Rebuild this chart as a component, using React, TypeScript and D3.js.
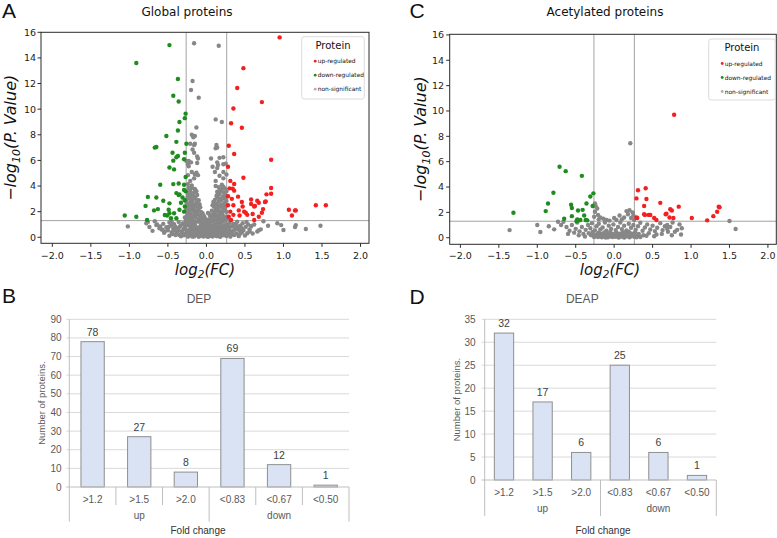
import React from "react";
import * as d3 from "d3";

// ---------- DATA ----------
const volcanoXTicks = [-2, -1.5, -1, -0.5, 0, 0.5, 1, 1.5, 2];
const volcanoYTicks = [0, 2, 4, 6, 8, 10, 12, 14, 16];
const fcThreshold = 0.263; // log2(1.2)
const pThreshold = 1.301; // -log10(0.05)
const legendLabels = ["up-regulated", "down-regulated", "non-significant"];

type P = [number, number];

const globalUp: P[] = [
  [0.95, 15.6], [0.48, 13.2], [0.4, 11.65], [0.72, 10.55], [0.35, 10.05], [0.32, 8.9], [0.46, 8.55],
  [0.29, 7.15], [0.36, 6.5], [0.84, 6.05], [0.28, 5.5], [0.48, 4.65], [0.31, 4.4], [0.36, 4.16],
  [0.3, 3.82], [0.34, 3.8], [0.36, 3.64], [0.84, 3.85], [0.84, 3.4], [0.78, 3.35], [0.28, 3.2],
  [0.41, 3.17], [0.33, 3.0], [0.58, 2.95], [0.66, 2.85], [0.77, 2.8], [0.76, 2.75], [0.68, 2.7],
  [0.58, 2.6], [0.63, 2.45], [0.62, 2.4], [0.46, 2.75], [0.35, 2.5], [0.28, 2.5], [1.42, 2.5],
  [1.55, 2.5], [1.07, 2.15], [1.15, 2.1], [1.16, 2.1], [1.11, 1.7], [0.735, 2.2], [0.72, 1.92],
  [0.51, 1.92], [0.42, 2.1], [0.49, 2.0], [0.6, 1.82], [0.35, 1.75], [0.29, 1.6], [0.32, 1.35],
  [0.43, 1.7], [0.53, 1.75], [0.62, 1.35], [0.68, 1.6], [0.31, 2.0], [0.47, 2.4],
];

const globalDown: P[] = [
  [-0.48, 15.0], [-0.91, 13.6], [-0.37, 12.35], [-0.43, 11.05], [-0.36, 10.6], [-0.27, 9.65],
  [-0.28, 9.3], [-0.35, 9.0], [-0.37, 8.33], [-0.52, 7.9], [-0.26, 7.3], [-0.39, 7.45], [-0.67, 7.0],
  [-0.65, 7.05], [-0.44, 6.6], [-0.28, 6.6], [-0.37, 6.35], [-0.39, 6.25], [-0.29, 6.09], [-0.43, 5.98],
  [-0.48, 5.45], [-0.42, 5.3], [-0.27, 4.7], [-0.6, 4.1], [-0.43, 4.15], [-0.36, 4.2], [-0.29, 4.1],
  [-0.76, 3.15], [-0.65, 3.1], [-0.56, 2.85], [-0.48, 2.65], [-0.39, 3.45], [-0.35, 3.35], [-0.36, 3.3],
  [-0.29, 3.7], [-0.28, 2.9], [-0.79, 2.45], [-0.63, 2.2], [-0.68, 2.1], [-0.49, 2.15], [-0.48, 1.88],
  [-0.42, 1.88], [-0.35, 2.15], [-0.29, 2.0], [-0.54, 1.74], [-0.51, 1.7], [-0.46, 1.48], [-0.39, 1.48],
  [-1.06, 1.7], [-0.91, 1.6], [-0.77, 1.35], [-0.28, 2.4], [-0.27, 3.6], [-0.33, 2.7], [-0.31, 3.1],
];

const globalNs: P[] = [
  // bottom band
  [-0.48, 0.12], [-0.4, 0.18], [-0.33, 0.08], [-0.29, 0.15], [-0.24, 0.05], [-0.2, 0.14], [-0.16, 0.07],
  [-0.13, 0.19], [-0.1, 0.04], [-0.07, 0.11], [-0.04, 0.06], [-0.01, 0.16], [0.02, 0.03], [0.05, 0.12],
  [0.08, 0.06], [0.11, 0.17], [0.14, 0.09], [0.18, 0.04], [0.22, 0.15], [0.26, 0.1], [0.31, 0.05],
  [0.36, 0.17], [0.42, 0.09], [0.5, 0.14],
  [-0.55, 0.35], [-0.45, 0.4], [-0.38, 0.3], [-0.32, 0.42], [-0.27, 0.27], [-0.23, 0.38], [-0.19, 0.3],
  [-0.15, 0.44], [-0.12, 0.28], [-0.09, 0.36], [-0.06, 0.25], [-0.03, 0.41], [0.0, 0.3], [0.03, 0.37],
  [0.06, 0.26], [0.09, 0.43], [0.12, 0.31], [0.15, 0.39], [0.19, 0.27], [0.23, 0.42], [0.28, 0.33],
  [0.33, 0.4], [0.39, 0.29], [0.46, 0.38], [0.53, 0.32],
  [-0.58, 0.6], [-0.5, 0.55], [-0.43, 0.66], [-0.36, 0.52], [-0.3, 0.63], [-0.25, 0.5], [-0.21, 0.68],
  [-0.17, 0.57], [-0.13, 0.64], [-0.1, 0.51], [-0.07, 0.62], [-0.04, 0.55], [-0.01, 0.67], [0.02, 0.53],
  [0.05, 0.65], [0.08, 0.56], [0.11, 0.69], [0.14, 0.52], [0.17, 0.61], [0.21, 0.54], [0.25, 0.66],
  [0.3, 0.58], [0.35, 0.5], [0.41, 0.64], [0.48, 0.55], [0.56, 0.62],
  [-0.6, 0.85], [-0.52, 0.78], [-0.46, 0.92], [-0.4, 0.8], [-0.34, 0.88], [-0.28, 0.76], [-0.24, 0.93],
  [-0.2, 0.82], [-0.16, 0.9], [-0.12, 0.77], [-0.08, 0.86], [-0.05, 0.95], [-0.02, 0.79], [0.01, 0.88],
  [0.04, 0.75], [0.07, 0.91], [0.1, 0.83], [0.13, 0.94], [0.16, 0.78], [0.2, 0.87], [0.24, 0.8],
  [0.29, 0.92], [0.34, 0.84], [0.39, 0.77], [0.44, 0.9], [0.51, 0.81], [0.58, 0.88],
  [-0.56, 1.05], [-0.48, 1.15], [-0.42, 1.02], [-0.36, 1.2], [-0.31, 1.08], [-0.27, 1.25], [-0.23, 1.04],
  [-0.19, 1.17], [-0.15, 1.0], [-0.11, 1.22], [-0.07, 1.1], [-0.03, 1.02], [0.0, 1.18], [0.04, 1.06],
  [0.08, 1.24], [0.11, 1.01], [0.14, 1.15], [0.18, 1.08], [0.22, 1.27], [0.26, 1.03], [0.3, 1.14],
  [0.35, 1.05], [0.4, 1.22], [0.47, 1.1], [0.54, 1.0],
  [-0.22, 0.22], [-0.18, 0.35], [-0.14, 0.15], [-0.11, 0.47], [-0.05, 0.33], [0.0, 0.09], [0.04, 0.2],
  [0.07, 0.48], [0.1, 0.24], [0.13, 0.1], [0.16, 0.28], [0.2, 0.46], [0.24, 0.2], [-0.26, 0.55],
  [-0.08, 0.72], [0.07, 0.7], [0.19, 0.75], [-0.18, 0.98], [0.15, 1.2], [-0.29, 0.97], [0.27, 0.74],
  [0.32, 0.22], [-0.35, 0.18],
  [-0.21, 0.44], [-0.17, 0.75], [-0.13, 0.35], [-0.09, 0.6], [-0.06, 0.85], [-0.03, 0.6], [0.0, 0.78],
  [0.03, 0.95], [0.06, 0.4], [0.09, 0.95], [0.12, 0.6], [0.15, 0.85], [0.18, 0.5], [0.21, 0.68],
  [0.24, 0.95], [0.27, 0.52], [0.3, 0.8], [-0.31, 0.35], [-0.36, 0.72], [-0.4, 0.5], [-0.44, 0.25],
  [0.38, 1.05], [0.43, 0.55], [-0.25, 1.1], [-0.21, 1.3], [0.2, 1.18], [0.12, 1.3], [-0.14, 1.25],
  [0.05, 0.15], [-0.02, 0.4], [0.17, 0.08], [-0.18, 0.05], [0.27, 0.2],
  // lobes
  [-0.26, 1.4], [-0.22, 1.52], [-0.18, 1.35], [-0.14, 1.58], [-0.1, 1.42], [-0.06, 1.33], [-0.02, 1.47],
  [0.02, 1.38], [0.06, 1.55], [0.1, 1.36], [0.14, 1.5], [0.18, 1.41], [0.22, 1.57], [0.25, 1.34],
  [-0.25, 1.72], [-0.21, 1.85], [-0.17, 1.66], [-0.13, 1.8], [-0.09, 1.7], [-0.05, 1.88], [0.05, 1.64],
  [0.09, 1.82], [0.13, 1.69], [0.17, 1.87], [0.21, 1.75], [0.26, 1.63],
  [-0.27, 2.05], [-0.23, 1.95], [-0.19, 2.15], [-0.15, 2.0], [-0.11, 2.12], [-0.07, 1.97], [0.07, 2.08],
  [0.11, 1.94], [0.15, 2.17], [0.19, 2.02], [0.23, 2.13], [0.26, 1.98],
  [-0.26, 2.35], [-0.22, 2.48], [-0.18, 2.28], [-0.14, 2.42], [-0.1, 2.25], [0.1, 2.38], [0.14, 2.27],
  [0.18, 2.45], [0.22, 2.31], [0.25, 2.44],
  [-0.25, 2.62], [-0.21, 2.75], [-0.17, 2.56], [-0.13, 2.7], [-0.09, 2.58], [0.12, 2.65], [0.16, 2.78],
  [0.2, 2.57], [0.24, 2.7],
  [-0.26, 2.95], [-0.22, 3.05], [-0.18, 2.85], [-0.14, 3.0], [0.11, 2.92], [0.15, 3.08], [0.19, 2.88],
  [0.23, 3.02], [0.26, 2.84],
  [-0.24, 3.2], [-0.2, 3.35], [-0.16, 3.15], [-0.12, 3.3], [0.13, 3.22], [0.17, 3.38], [0.21, 3.14],
  [0.25, 3.28],
  [-0.25, 3.5], [-0.21, 3.62], [-0.17, 3.45], [0.14, 3.55], [0.18, 3.68], [0.22, 3.48], [0.26, 3.6],
  [-0.23, 3.85], [-0.19, 4.05], [-0.15, 3.78], [-0.24, 4.15], [0.16, 3.9], [0.2, 4.1], [0.24, 3.8],
  [0.12, 4.0],
  [-0.2, 1.6], [-0.16, 1.95], [-0.12, 2.55], [-0.19, 2.6], [-0.23, 2.2], [-0.08, 2.35], [0.08, 2.5],
  [0.16, 2.05], [0.2, 2.35], [0.12, 1.75], [0.24, 2.55], [0.18, 3.0], [-0.2, 3.1], [-0.15, 3.55],
  [0.2, 3.75], [-0.07, 1.55], [0.04, 1.8], [-0.03, 1.65], [0.02, 1.9],
  [-0.28, 1.55], [-0.24, 1.9], [-0.2, 2.45], [-0.16, 2.25], [-0.12, 1.9], [-0.08, 1.6], [-0.04, 1.25],
  [-0.01, 1.35], [0.03, 1.2], [0.06, 1.38], [0.09, 1.6], [0.12, 2.15], [0.15, 2.5], [0.17, 1.6],
  [0.21, 2.0], [0.24, 2.2], [0.27, 1.45], [-0.27, 2.8], [-0.23, 3.35], [-0.19, 3.85], [0.17, 3.6],
  [0.22, 3.95], [0.25, 3.1], [0.14, 3.3], [-0.13, 3.6], [-0.1, 2.9], [0.09, 2.75],
  // upper sparse
  [-0.21, 4.4], [-0.16, 4.6], [-0.24, 4.85], [-0.11, 4.85], [-0.15, 4.9], [-0.19, 5.1], [-0.13, 5.05],
  [-0.23, 5.55], [-0.24, 5.7], [-0.2, 5.85], [-0.12, 5.8], [-0.23, 5.95], [-0.12, 6.3], [-0.11, 6.15],
  [-0.16, 6.6], [-0.18, 6.85], [-0.16, 7.2], [-0.15, 7.3], [-0.21, 7.3], [-0.17, 7.8], [-0.15, 7.9],
  [-0.19, 8.0], [-0.13, 8.57], [-0.26, 5.95],
  [0.12, 4.4], [0.17, 4.8], [0.22, 4.6], [0.11, 5.1], [0.22, 5.1], [0.14, 5.4], [0.15, 5.65], [0.22, 5.7],
  [0.25, 5.75], [0.14, 5.85], [0.06, 6.15], [0.17, 6.2], [0.22, 6.25], [0.12, 6.95], [0.13, 7.2],
  [0.14, 7.0], [0.12, 9.2], [0.2, 9.0], [0.08, 5.5], [0.26, 4.9],
  // outliers
  [-0.16, 15.15], [0.16, 14.95], [-0.18, 12.2], [-0.2, 11.5], [-0.1, 10.9],
  [-1.02, 0.85], [-0.78, 1.1], [-0.76, 1.2], [-0.74, 0.8], [-0.65, 0.95], [-0.64, 1.0], [-0.61, 0.7],
  [-0.57, 0.6], [-0.54, 0.45], [-0.49, 0.8], [-0.45, 1.2], [-0.43, 1.0], [-0.41, 0.55], [-0.7, 0.5],
  [-0.67, 1.25],
  [0.92, 1.1], [0.97, 0.95], [1.0, 0.57], [1.16, 0.95], [1.15, 0.8], [1.29, 0.65], [1.48, 0.9],
  [0.705, 0.62], [0.66, 0.45], [0.68, 0.55], [0.58, 0.85], [0.46, 0.7], [0.41, 0.85], [0.56, 0.45],
  [0.37, 0.6], [0.35, 0.95], [0.74, 1.25], [0.62, 1.0], [0.8, 0.9], [0.52, 1.2], [0.44, 0.3], [0.6, 0.3],
];

const acetylUp: P[] = [
  [0.78, 9.7], [0.31, 3.75], [0.29, 3.1], [0.41, 3.9], [0.42, 3.05], [0.39, 2.5], [0.6, 2.75],
  [0.84, 2.45], [0.73, 2.25], [0.75, 2.15], [0.68, 1.9], [0.67, 1.85], [0.39, 1.85], [0.4, 1.8],
  [0.45, 1.8], [0.47, 1.8], [0.29, 1.6], [0.3, 1.55], [0.52, 1.55], [0.55, 1.4], [0.72, 1.6],
  [0.77, 1.55], [1.01, 1.55], [1.21, 1.37], [1.29, 1.7], [1.34, 2.05], [1.36, 2.45], [1.37, 2.4],
];

const acetylDown: P[] = [
  [-0.71, 5.6], [-0.63, 5.25], [-0.42, 4.88], [-0.79, 3.55], [-0.27, 3.5], [-0.31, 3.25], [-0.86, 2.7],
  [-0.56, 2.6], [-0.55, 2.35], [-0.36, 2.7], [-0.28, 2.5], [-0.41, 2.2], [-0.47, 2.15], [-0.89, 2.1],
  [-1.31, 1.97], [-0.55, 1.7], [-0.39, 1.75], [-0.65, 1.5], [-0.48, 1.45], [-0.46, 1.37], [-0.44, 1.4],
  [-0.37, 1.4], [-0.35, 1.37], [-0.49, 1.3],
];

const acetylNs: P[] = [
  [-0.38, 0.1], [-0.3, 0.2], [-0.26, 0.06], [-0.22, 0.3], [-0.19, 0.12], [-0.16, 0.04], [-0.14, 0.22],
  [-0.12, 0.08], [-0.1, 0.16], [-0.08, 0.03], [-0.06, 0.25], [-0.04, 0.1], [-0.02, 0.05], [0.0, 0.18],
  [0.02, 0.07], [0.04, 0.13], [0.06, 0.02], [0.08, 0.21], [0.1, 0.09], [0.12, 0.15], [0.14, 0.05],
  [0.16, 0.27], [0.18, 0.11], [0.2, 0.04], [0.23, 0.19], [0.26, 0.08], [0.3, 0.14], [0.34, 0.06],
  [-0.33, 0.35], [-0.28, 0.45], [-0.24, 0.15], [-0.2, 0.4], [-0.17, 0.3], [-0.13, 0.42], [-0.09, 0.34],
  [-0.05, 0.45], [-0.01, 0.3], [0.03, 0.4], [0.07, 0.32], [0.11, 0.44], [0.15, 0.37], [0.19, 0.47],
  [0.22, 0.33], [0.27, 0.42], [0.32, 0.3], [0.38, 0.2], [-0.11, 0.02], [0.05, 0.26], [-0.07, 0.14],
  [0.13, 0.01], [-0.15, 0.13], [0.09, 0.12], [0.01, 0.24], [-0.03, 0.2], [0.17, 0.18], [0.21, 0.1],
  [-0.21, 0.06], [0.25, 0.28], [-0.27, 0.26], [0.29, 0.03],
  [-0.58, 0.55], [-0.5, 0.7], [-0.45, 0.5], [-0.42, 0.85], [-0.37, 0.62], [-0.34, 1.0], [-0.31, 0.75],
  [-0.29, 1.15], [-0.25, 0.58], [-0.23, 0.9], [-0.2, 1.1], [-0.18, 0.65], [-0.15, 0.8], [-0.12, 1.2],
  [-0.1, 0.55], [-0.07, 0.95], [-0.04, 0.7], [-0.01, 1.05], [0.02, 0.6], [0.05, 0.85], [0.08, 1.2],
  [0.1, 0.68], [0.13, 0.95], [0.16, 0.58], [0.19, 1.1], [0.22, 0.78], [0.25, 1.0], [0.28, 0.62],
  [0.31, 0.9], [0.34, 1.18], [0.37, 0.55], [0.4, 0.8], [0.43, 1.05], [0.47, 0.65], [0.5, 0.95],
  [0.53, 0.52], [0.56, 0.78], [0.6, 1.15], [0.63, 0.6], [0.66, 0.9], [0.69, 0.7], [0.69, 1.0],
  [0.7, 0.47], [0.73, 0.85], [0.76, 1.2], [0.79, 0.47], [0.82, 0.62], [0.85, 1.05], [0.88, 0.75],
  [0.87, 0.25], [-0.55, 1.0], [-0.62, 0.85], [-0.48, 1.2], [-0.4, 0.3], [-0.46, 0.2], [0.45, 0.35],
  [0.55, 0.25], [0.62, 0.3], [0.75, 0.2], [0.52, 0.12], [-0.52, 0.4], [0.42, 0.15],
  [-1.36, 0.6], [-1.0, 1.0], [-0.96, 0.45], [-0.78, 0.66], [-0.73, 1.26], [-0.69, 1.0], [-0.66, 1.26],
  [1.5, 1.32], [1.58, 0.69], [-0.85, 0.9], [-0.6, 0.3],
  [0.21, 7.45], [0.16, 2.1], [0.2, 2.17], [0.07, 1.75], [-0.25, 2.7], [-0.24, 2.5], [-0.22, 2.3],
  [-0.25, 2.05], [-0.21, 1.8], [-0.18, 1.6], [-0.14, 1.5], [-0.1, 1.4], [0.1, 1.45], [0.13, 1.6],
  [0.18, 1.85], [0.22, 1.55], [0.25, 1.75], [0.24, 2.0], [-0.06, 1.35], [0.03, 1.4], [-0.2, 1.45],
  [0.26, 1.4], [-0.26, 1.65], [0.0, 1.55],
];

const foldCategories = [">1.2", ">1.5", ">2.0", "<0.83", "<0.67", "<0.50"];
const foldGroups = ["up", "down"];
const depCounts = [78, 27, 8, 69, 12, 1];
const deapCounts = [32, 17, 6, 25, 6, 1];
const depTicks = [0, 10, 20, 30, 40, 50, 60, 70, 80, 90];
const deapTicks = [0, 5, 10, 15, 20, 25, 30, 35];

// ---------- STYLE ----------
const MPL = "DejaVu Sans, sans-serif";
const XL = "Liberation Sans, Arial, sans-serif";
const RED = "#f41f1f";
const GREEN = "#1f8c1f";
const GRAY = "#878787";

const fmtTick = (v: number) => (v < 0 ? "\u2212" : "") + Math.abs(v).toFixed(1);

type Box = { l: number; r: number; t: number; b: number };

function Volcano(props: {
  letter: string; letterX: number; title: string; titleX: number; box: Box;
  xDomain: [number, number]; yDomain: [number, number];
  up: P[]; down: P[]; ns: P[];
  legend: { x: number; y: number; w: number; h: number };
  yLabelX: number; xLabelX: number; yTickRight: number;
}) {
  const { box } = props;
  const x = d3.scaleLinear().domain(props.xDomain).range([box.l, box.r]);
  const y = d3.scaleLinear().domain(props.yDomain).range([box.b, box.t]);
  const r = 2.2;
  const lg = props.legend;
  const legendColors = [RED, GREEN, "#b0b0b0"];
  const midY = (box.t + box.b) / 2;
  return (
    <g>
      <text x={props.letterX} y={17.5} fontFamily={XL} fontSize={21} fill="#111">{props.letter}</text>
      <text x={props.titleX} y={16} fontFamily={MPL} fontSize={12} textAnchor="middle" fill="#111">{props.title}</text>
      {/* threshold lines */}
      <line x1={x(-fcThreshold)} x2={x(-fcThreshold)} y1={box.t} y2={box.b} stroke="#a3a3a3" strokeWidth={1} />
      <line x1={x(fcThreshold)} x2={x(fcThreshold)} y1={box.t} y2={box.b} stroke="#a3a3a3" strokeWidth={1} />
      <line x1={box.l} x2={box.r} y1={y(pThreshold)} y2={y(pThreshold)} stroke="#a3a3a3" strokeWidth={1} />
      {/* points */}
      {props.ns.map((d, i) => <circle key={"n" + i} cx={x(d[0])} cy={y(d[1])} r={r} fill={GRAY} />)}
      {props.down.map((d, i) => <circle key={"d" + i} cx={x(d[0])} cy={y(d[1])} r={r} fill={GREEN} />)}
      {props.up.map((d, i) => <circle key={"u" + i} cx={x(d[0])} cy={y(d[1])} r={r} fill={RED} />)}
      {/* frame */}
      <rect x={box.l} y={box.t} width={box.r - box.l} height={box.b - box.t} fill="none" stroke="#2b2b2b" strokeWidth={1} />
      {/* x ticks */}
      {volcanoXTicks.map((v) => (
        <g key={"xt" + v}>
          <line x1={x(v)} x2={x(v)} y1={box.b} y2={box.b + 3.5} stroke="#2b2b2b" />
          <text x={x(v)} y={259} fontFamily={MPL} fontSize={9.5} textAnchor="middle" fill="#222">{fmtTick(v)}</text>
        </g>
      ))}
      {/* y ticks */}
      {volcanoYTicks.map((v) => (
        <g key={"yt" + v}>
          <line x1={box.l - 3.5} x2={box.l} y1={y(v)} y2={y(v)} stroke="#2b2b2b" />
          <text x={props.yTickRight} y={y(v) + 3.4} fontFamily={MPL} fontSize={9.5} textAnchor="end" fill="#222">{v}</text>
        </g>
      ))}
      {/* axis labels */}
      <text transform={`translate(${props.yLabelX},${midY}) rotate(-90)`} fontFamily={MPL} fontStyle="italic" fontSize={16} textAnchor="middle" fill="#111">
        {"\u2212log"}<tspan fontSize={11} dy={4}>10</tspan><tspan dy={-4}>(P. Value)</tspan>
      </text>
      <text x={props.xLabelX} y={275} fontFamily={MPL} fontStyle="italic" fontSize={15} textAnchor="middle" fill="#111">
        log<tspan fontSize={10.5} dy={3}>2</tspan><tspan dy={-3}>(FC)</tspan>
      </text>
      {/* legend */}
      <rect x={lg.x} y={lg.y} width={lg.w} height={lg.h} rx={2.5} fill="white" fillOpacity={0.85} stroke="#d2d2d2" strokeWidth={0.8} />
      <text x={lg.x + lg.w / 2} y={lg.y + 12} fontFamily={MPL} fontSize={10} textAnchor="middle" fill="#111">Protein</text>
      {legendLabels.map((t, i) => (
        <g key={t}>
          <circle cx={lg.x + 13.5} cy={lg.y + 24.5 + i * 14} r={1.4} fill={legendColors[i]} />
          <text x={lg.x + 16} y={lg.y + 26.5 + i * 14} fontFamily={MPL} fontSize={5.9} fill="#111">{t}</text>
        </g>
      ))}
    </g>
  );
}

function BarPanel(props: {
  letter: string; letterX: number; letterY: number; title: string; titleX: number; box: Box;
  counts: number[]; ticks: number[]; yTickRight: number; yLabelX: number;
  catY: number; groupY: number; groupBottom: number; innerBottom: number | null; foldX: number;
}) {
  const { box } = props;
  const x = d3.scaleBand().domain(foldCategories).range([box.l, box.r]).paddingInner(0.5).paddingOuter(0.25);
  const yMax = props.ticks[props.ticks.length - 1];
  const y = d3.scaleLinear().domain([0, yMax]).range([box.b, box.t]);
  const step = (box.r - box.l) / foldCategories.length;
  const groupEdges = [box.l, box.l + 3 * step, box.r];
  const inner = [1, 2, 4, 5].map((k) => box.l + k * step);
  return (
    <g>
      <text x={props.letterX} y={props.letterY} fontFamily={XL} fontSize={21} fill="#111">{props.letter}</text>
      <text x={props.titleX} y={303} fontFamily={XL} fontSize={12} textAnchor="middle" fill="#595959">{props.title}</text>
      {props.ticks.map((v) => (
        <g key={"g" + v}>
          {v > 0 && <line x1={box.l - 3} x2={box.r} y1={y(v)} y2={y(v)} stroke="#d9d9d9" strokeWidth={1} />}
          <text x={props.yTickRight} y={y(v) + 3.5} fontFamily={XL} fontSize={10} textAnchor="end" fill="#595959">{v}</text>
        </g>
      ))}
      {foldCategories.map((c, i) => (
        <g key={c}>
          <rect x={x(c)} y={y(props.counts[i])} width={x.bandwidth()} height={box.b - y(props.counts[i])} fill="#dae3f3" stroke="#8f8f8f" strokeWidth={1} />
          <text x={(x(c) as number) + x.bandwidth() / 2} y={y(props.counts[i]) - 6} fontFamily={XL} fontSize={10.5} textAnchor="middle" fill="#404040">{props.counts[i]}</text>
          <text x={(x(c) as number) + x.bandwidth() / 2} y={props.catY} fontFamily={XL} fontSize={10} textAnchor="middle" fill="#595959">{c}</text>
        </g>
      ))}
      <line x1={box.l - 3} x2={box.r} y1={box.b} y2={box.b} stroke="#bfbfbf" strokeWidth={1} />
      <line x1={box.l} x2={box.l} y1={box.t} y2={props.groupBottom} stroke="#bfbfbf" strokeWidth={1} />
      {groupEdges.slice(1).map((gx, i) => (
        <line key={"ge" + i} x1={gx} x2={gx} y1={box.b} y2={props.groupBottom} stroke="#bfbfbf" strokeWidth={1} />
      ))}
      {props.innerBottom !== null && inner.map((ix, i) => (
        <line key={"in" + i} x1={ix} x2={ix} y1={box.b} y2={props.innerBottom as number} stroke="#bfbfbf" strokeWidth={1} />
      ))}
      {foldGroups.map((g, i) => (
        <text key={g} x={(groupEdges[i] + groupEdges[i + 1]) / 2} y={props.groupY} fontFamily={XL} fontSize={10} textAnchor="middle" fill="#595959">{g}</text>
      ))}
      <text x={props.foldX} y={533.5} fontFamily={XL} fontSize={10} textAnchor="middle" fill="#333">Fold change</text>
      <text transform={`translate(${props.yLabelX},${(box.t + box.b) / 2}) rotate(-90)`} fontFamily={XL} fontSize={9.5} textAnchor="middle" fill="#595959">Number of proteins.</text>
    </g>
  );
}

export default function App() {
  return (
    <svg width={777} height={538} style={{ position: "absolute", left: 0, top: 0, background: "white" }}>
      <Volcano
        letter="A" letterX={2} title="Global proteins" titleX={187}
        box={{ l: 41, r: 369, t: 32.3, b: 243.3 }}
        xDomain={[-2.147, 2.11]} yDomain={[-0.47, 16]}
        up={globalUp} down={globalDown} ns={globalNs}
        legend={{ x: 301.7, y: 36.7, w: 62.6, h: 62.3 }}
        yLabelX={16} xLabelX={205} yTickRight={36}
      />
      <Volcano
        letter="C" letterX={409.5} title="Acetylated proteins" titleX={605}
        box={{ l: 449.7, r: 776.3, t: 34.3, b: 244.3 }}
        xDomain={[-2.139, 2.109]} yDomain={[-0.52, 16.05]}
        up={acetylUp} down={acetylDown} ns={acetylNs}
        legend={{ x: 708.7, y: 39, w: 66.5, h: 61 }}
        yLabelX={426} xLabelX={610} yTickRight={444}
      />
      <BarPanel
        letter="B" letterX={2} letterY={303} title="DEP" titleX={199}
        box={{ l: 69.3, r: 349, t: 319.3, b: 487 }}
        counts={depCounts} ticks={depTicks} yTickRight={61.5} yLabelX={45}
        catY={502.5} groupY={519} groupBottom={521.7} innerBottom={505} foldX={198}
      />
      <BarPanel
        letter="D" letterX={409.5} letterY={304} title="DEAP" titleX={582.3}
        box={{ l: 484.7, r: 716.3, t: 319.3, b: 480 }}
        counts={deapCounts} ticks={deapTicks} yTickRight={475.5} yLabelX={460}
        catY={495.5} groupY={512} groupBottom={516} innerBottom={null} foldX={603}
      />
    </svg>
  );
}
